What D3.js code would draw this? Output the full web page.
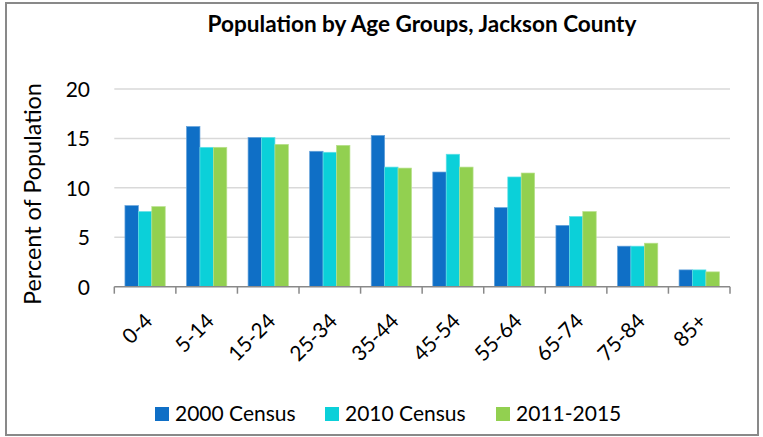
<!DOCTYPE html>
<html><head><meta charset="utf-8">
<script src="https://cdn.jsdelivr.net/npm/d3@7"></script>
<style>body{margin:0;background:#fff}svg{display:block}</style>
</head><body><svg id="c" width="763" height="437"></svg>
<script>
const categories = ["0-4","5-14","15-24","25-34","35-44","45-54","55-64","65-74","75-84","85+"];
const seriesNames = ["2000 Census","2010 Census","2011-2015"];
const census2000 = [8.2,16.2,15.1,13.7,15.3,11.6,8.0,6.2,4.1,1.7];
const census2010 = [7.6,14.1,15.1,13.6,12.1,13.4,11.1,7.1,4.1,1.7];
const acs2011_2015 = [8.1,14.1,14.4,14.3,12.0,12.1,11.5,7.6,4.4,1.5];
const yTicks = [0,5,10,15,20];
const colors = ["#0F6FC6","#0BD0D9","#92D050"];
const title = "Population by Age Groups, Jackson County";
const yLabel = "Percent of Population";

const values = [census2000, census2010, acs2011_2015];
const font = "Lato, 'Open Sans', sans-serif";
const svg = d3.select("#c");

// scale font-size so a text reaches a target width
function fitWidth(sel, target) {
  const fs = parseFloat(sel.attr("font-size"));
  const w = sel.node().getComputedTextLength();
  if (w > 0) sel.attr("font-size", (fs * target / w).toFixed(2));
  return sel;
}

svg.append("rect").attr("x",6).attr("y",3).attr("width",752).attr("height",432)
  .attr("fill","#fff").attr("stroke","#898989").attr("stroke-width",2);

const pL=114.3, pR=730, pT=89, pB=286.7;
const x0 = d3.scaleBand().domain(categories).range([pL,pR]).padding(0);
const gap = x0.bandwidth()*0.173;
const x1 = d3.scaleBand().domain(d3.range(3)).range([gap, x0.bandwidth()-gap]).padding(0);
const y = d3.scaleLinear().domain([0,20]).range([pB,pT]);

// gridlines
svg.append("g").selectAll("line").data(yTicks.filter(d=>d>0)).join("line")
  .attr("x1",pL).attr("x2",pR).attr("y1",d=>y(d)).attr("y2",d=>y(d))
  .attr("stroke","#d9d9d9").attr("stroke-width",1.5);

// bars
const g = svg.append("g");
categories.forEach((c,i)=>{
  values.forEach((s,j)=>{
    g.append("rect")
      .attr("x", x0(c)+x1(j)).attr("width", x1.bandwidth())
      .attr("y", y(s[i])).attr("height", y(0)-y(s[i]))
      .attr("fill", colors[j])
      .attr("stroke", d3.interpolateRgb(colors[j], "#fff")(0.35))
      .attr("stroke-width", 0.7);
  });
});

// x axis
const xAxis = d3.axisBottom(x0).tickSize(0).tickFormat("");
const xg = svg.append("g").attr("transform",`translate(0,${pB})`).call(xAxis);
xg.select(".domain").attr("stroke","#898989").attr("stroke-width",1.5).attr("d",`M${pL},0H${pR}`);
const edges = categories.map(c=>x0(c)).concat([pR]);
xg.selectAll(".edge").data(edges).join("line").attr("class","edge")
  .attr("x1",d=>d).attr("x2",d=>d).attr("y1",0).attr("y2",7)
  .attr("stroke","#898989").attr("stroke-width",1.5);
svg.append("g").selectAll("text").data(categories).join("text")
  .attr("transform",d=>`translate(${x0(d)+x0.bandwidth()/2+5},${pB+32}) rotate(-45)`)
  .attr("text-anchor","end").attr("dominant-baseline","middle")
  .attr("font-family",font).attr("font-size",21).attr("fill","#000").text(d=>d);

// y axis labels
const yAxis = d3.axisLeft(y).tickValues(yTicks).tickSize(0).tickPadding(0);
const yg = svg.append("g").attr("transform",`translate(90,0)`).call(yAxis);
yg.select(".domain").remove();
yg.selectAll("text").attr("font-family",font).attr("font-size",21).attr("fill","#000").attr("dy","0.35em");

const yl = svg.append("text").attr("transform",`translate(41,194) rotate(-90)`)
  .attr("text-anchor","middle").attr("font-family",font).attr("font-size",21).attr("fill","#000").text(yLabel);
fitWidth(yl, 222);

const tt = svg.append("text").attr("x",422).attr("y",32).attr("text-anchor","middle")
  .attr("font-family",font).attr("font-weight","bold").attr("font-size",20).attr("fill","#000").text(title);
fitWidth(tt, 429);

// legend
const legX = [155,325,496];
const lg = svg.append("g");
seriesNames.forEach((n,j)=>{
  lg.append("rect").attr("x",legX[j]).attr("y",407).attr("width",14).attr("height",14).attr("fill",colors[j]);
  lg.append("text").attr("x",legX[j]+20).attr("y",414).attr("dy","0.35em")
    .attr("font-family",font).attr("font-size",21).attr("fill","#000").text(n);
});
</script></body></html>
